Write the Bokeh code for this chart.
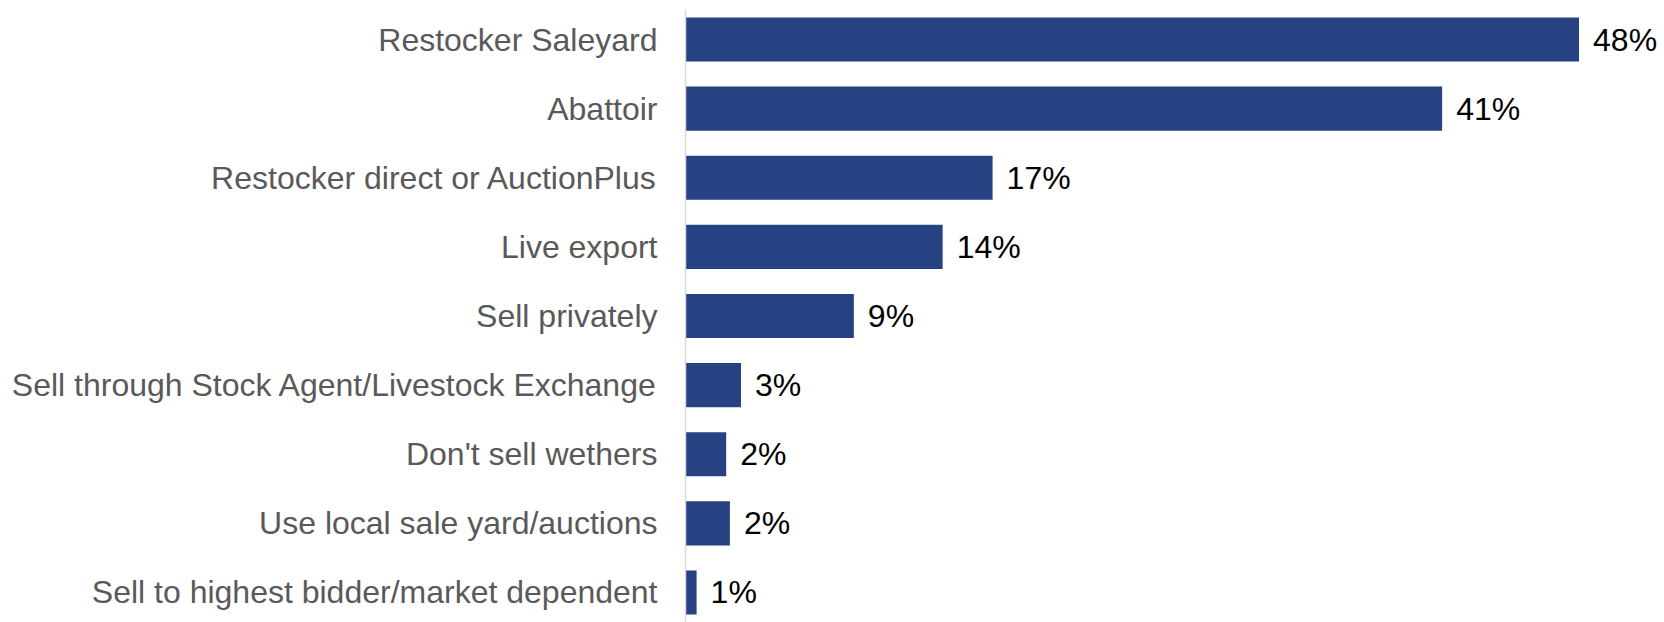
from bokeh.plotting import figure
from bokeh.models import ColumnDataSource, FactorRange, Range1d, LabelSet
from bokeh.core.properties import value
from bokeh.embed import file_html
from bokeh.resources import INLINE

categories = [
    "Restocker Saleyard",
    "Abattoir",
    "Restocker direct or AuctionPlus",
    "Live export",
    "Sell privately",
    "Sell through Stock Agent/Livestock Exchange",
    "Don't sell wethers",
    "Use local sale yard/auctions",
    "Sell to highest bidder/market dependent",
]
values = [48.3, 40.9, 16.6, 13.9, 9.1, 3.0, 2.2, 2.4, 0.6]
value_labels = ["48%", "41%", "17%", "14%", "9%", "3%", "2%", "2%", "1%"]

source = ColumnDataSource(dict(cat=categories, val=values, lab=value_labels))

y_range = FactorRange(factors=list(reversed(categories)),
                      range_padding=-0.066, range_padding_units="absolute")

p = figure(width=1664, height=622, y_range=y_range, x_range=Range1d(0, 52.92),
           output_backend="svg", toolbar_location=None,
           min_border_left=685, min_border_right=0, min_border_top=9, min_border_bottom=0)

p.hbar(y="cat", right="val", left=0, height=0.637, source=source,
       fill_color="#264282", line_color=None)

labels = LabelSet(x="val", y="cat", text="lab", source=source, x_offset=14,
                  text_baseline="middle", text_align="left",
                  text_font=value("Liberation Sans"), text_font_size="32px",
                  text_color="#000000")
p.add_layout(labels)

p.xaxis.visible = False
p.xgrid.visible = False
p.ygrid.visible = False
p.outline_line_color = None

ya = p.yaxis[0]
ya.axis_line_color = "#D9D9D9"
ya.axis_line_width = 1.5
ya.major_tick_line_color = None
ya.minor_tick_line_color = None
ya.major_tick_out = 0
ya.major_tick_in = 0
ya.major_label_standoff = 28
ya.major_label_text_font = "Liberation Sans"
ya.major_label_text_font_size = "32px"
ya.major_label_text_color = "#595959"

open("out.html", "w").write(file_html(p, INLINE))
